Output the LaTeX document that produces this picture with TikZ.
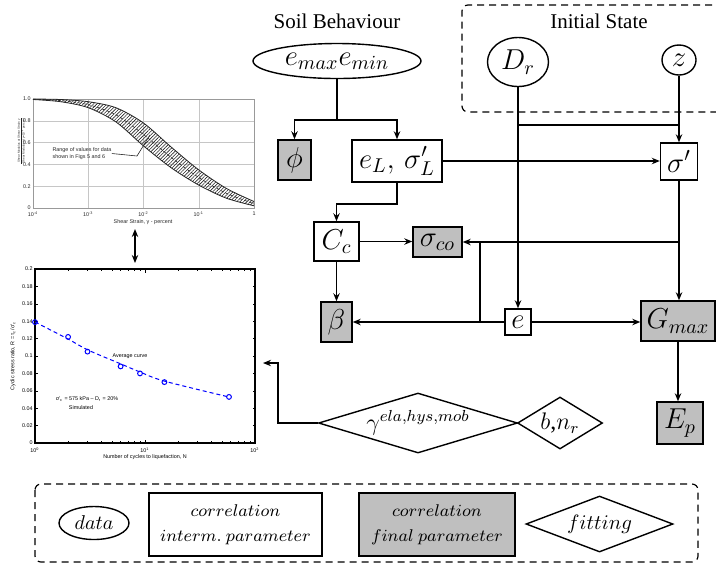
\RequirePackage{fix-cm}
\documentclass[tikz,border=0pt]{standalone}
\usepackage{fontspec}
\setmainfont{Liberation Serif}
\newfontfamily\plotfont{Liberation Sans}
\usetikzlibrary{shapes.geometric,arrows.meta,patterns.meta}

\begin{document}
\begin{tikzpicture}[x=0.5pt,y=-0.5pt,>={Stealth[length=4pt,width=3.2pt]}]
\tikzstyle{every node}+=[inner sep=0pt]
\tikzstyle{datum}=[draw,ellipse,line width=0.7pt,font=\Large]
\tikzstyle{interm}=[draw,rectangle,line width=0.7pt,font=\Large]
\tikzstyle{final}=[interm,fill=gray!50]
\tikzstyle{fitting}=[draw,diamond,line width=0.7pt,font=\large]
\tikzstyle{link}=[line width=0.7pt]
\tikzstyle{framebox}=[line width=0.6pt,dash pattern=on 3.5pt off 2.5pt,rounded corners=3pt]
\tikzstyle{plottext}=[font=\plotfont\fontsize{2.7}{3.2}\selectfont]
\tikzstyle{scan}=[gray!75,line width=0.3pt]
\useasboundingbox (0,0) rectangle (716,564);

\node[font=\fontsize{10.5}{12}\selectfont] (soiltitle) at (337,21) {Soil Behaviour};
\node[font=\fontsize{10.5}{12}\selectfont] (inittitle) at (599,21) {Initial State};
\draw[framebox] (724,5) -- (462,5) -- (462,112) -- (724,112);

\node[datum,minimum width=84pt,minimum height=17.5pt] (emm) at (337,61) {$e_{max}e_{min}$};
\node[datum,minimum width=30.5pt,minimum height=24.5pt] (Dr) at (518,62) {$D_r$};
\node[datum,minimum width=17pt,minimum height=15pt] (z) at (679,60) {$z$};

\node[final,minimum width=16.5pt,minimum height=20pt] (phi) at (294.5,160) {$\phi$};
\node[interm,minimum width=45pt,minimum height=21pt] (eL) at (397,161) {$e_L,\,\sigma'_L$};
\node[interm,minimum width=18.5pt,minimum height=18.5pt] (sig) at (679,161.5) {$\sigma'$};
\node[interm,minimum width=22.5pt,minimum height=19.5pt] (Cc) at (336.5,241.5) {$C_c$};
\node[final,minimum width=24.5pt,minimum height=15pt] (sco) at (437.5,242) {$\sigma_{co}$};
\node[final,minimum width=15.5pt,minimum height=20pt] (beta) at (336.5,322) {$\beta$};
\node[interm,minimum width=13pt,minimum height=13pt] (e) at (518,322) {$e$};
\node[final,minimum width=37pt,minimum height=20pt] (Gmax) at (678,321) {$G_{max}$};
\node[final,minimum width=23pt,minimum height=21pt] (Ep) at (680,423) {$E_p$};
\node[fitting,aspect=3.3,minimum width=99.5pt,minimum height=30pt] (gam) at (418,423) {$\gamma^{ela,hys,mob}$};
\node[fitting,aspect=1.6,minimum width=42.5pt,minimum height=26pt] (bnr) at (560,423) {$b$,$n_r$};

\coordinate (splitA) at (337,120);
\draw[link] (emm.south) -- (emm.south |- splitA);
\draw[link,->] (splitA) -| (phi.north);
\draw[link,->] (splitA) -| (eL.north);
\draw[link,->] (eL.east) -- (eL.east -| sig.west);
\coordinate (splitB) at (518,125);
\draw[link,->] (Dr.south) -- (Dr.south |- e.north);
\draw[link] (splitB) -- (splitB -| z.south);
\draw[link,->] (z.south) -- (z.south |- sig.north);
\coordinate (splitC) at (0,204);
\draw[link,->] (eL.south) -- (eL.south |- splitC) -| (Cc.north);
\draw[link,->] (Cc.east) -- (Cc.east -| sco.west);
\draw[link,->] (Cc.south) -- (Cc.south |- beta.north);
\draw[link,->] (sig.south) -- (sig.south |- Gmax.north);
\draw[link,->] (sig.south |- sco.east) -- (sco.east);
\coordinate (splitD) at (480,322);
\draw[link,->] (e.west) -- (e.west -| beta.east);
\draw[link] (splitD) -- (splitD |- sco.east);
\draw[link,->] (e.east) -- (e.east -| Gmax.west);
\draw[link,->] (Gmax.south) -- (Gmax.south |- Ep.north);
\coordinate (bendE) at (278,363);
\coordinate (csrin) at (263,363);
\draw[link,->] (gam.west) -| (bendE) -- (csrin);

\foreach \gx in {88.3,143.5,198.8} \draw[scan,gray!45] (\gx,99) -- (\gx,208);
\foreach \gy in {120.8,142.6,164.4,186.2} \draw[scan,gray!45] (33,\gy) -- (254,\gy);
\draw[scan,gray!80,line width=0.45pt] (33,99) rectangle (254,208);
\fill[pattern={Lines[angle=45,distance=1.2pt,line width=0.3pt]},pattern color=gray!30!black]
  plot[smooth] coordinates {(33,99) (60.6,99.5) (88.3,101.7) (115.9,107.7) (143.5,123) (171.1,147) (198.8,169.9) (226.4,188.4) (254,201.5)}
  -- plot[smooth] coordinates {(254,205.8) (226.4,198.2) (198.8,185.1) (171.1,167.7) (143.5,145.9) (115.9,121.9) (88.3,107.7) (60.6,101.7) (33,99.5)} -- cycle;
\draw[scan,gray!30!black,line width=0.4pt] plot[smooth] coordinates {(33,99) (60.6,99.5) (88.3,101.7) (115.9,107.7) (143.5,123) (171.1,147) (198.8,169.9) (226.4,188.4) (254,201.5)};
\draw[scan,gray!30!black,line width=0.4pt] plot[smooth] coordinates {(33,99.5) (60.6,101.7) (88.3,107.7) (115.9,121.9) (143.5,145.9) (171.1,167.7) (198.8,185.1) (226.4,198.2) (254,205.8)};
\draw[scan,gray!30!black,dash pattern=on 1.5pt off 1pt] plot[smooth] coordinates {(33,99.2) (60.6,100.6) (88.3,104.7) (115.9,114.8) (143.5,134.5) (171.1,157.4) (198.8,177.5) (226.4,193.3) (254,203.6)};
\foreach \v/\k in {1.0/5,0.8/4,0.6/3,0.4/2,0.2/1,0/0}
  \node[plottext,text=gray!30!black,anchor=east] (ggy\k) at (31,{208-21.8*\k}) {\v};
\foreach \lab/\k in {10\textsuperscript{-4}/0,10\textsuperscript{-3}/1,10\textsuperscript{-2}/2,10\textsuperscript{-1}/3,1/4}
  \node[plottext,text=gray!30!black] (ggx\k) at ({33+55.25*\k},214) {\lab};
\node[plottext,text=gray!30!black] (ggxlabel) at (143,222) {Shear Strain, γ - percent};
\node[plottext,font=\plotfont\fontsize{1.5}{1.8}\selectfont,text=gray!30!black,rotate=90] (ggylabeltop) at (19,141) {Shear Modulus at Shear Strain γ};
\node[plottext,font=\plotfont\fontsize{1.5}{1.8}\selectfont,text=gray!30!black,rotate=90] (ggylabelbot) at (23.5,141) {Shear Modulus at γ=10\textsuperscript{-4} percent};
\draw[scan,gray!30!black,line width=0.2pt] (21.2,118) -- (21.2,164);
\node[plottext,text=gray!30!black,align=left] (rangenote) at (82,153.5) {Range of values for data\\shown in Figs 5 and 6};
\coordinate (rangetip) at (150,135);
\draw[scan,gray!30!black] (rangenote.east) -- (137,156) -- (rangetip);

\coordinate (ggout) at (135,229);
\coordinate (csrtop) at (135,263);
\draw[link,<->] (ggout) -- (csrtop);

\draw[line width=0.6pt] (35,269) rectangle (255,443);
\foreach \k in {1,...,9} {
  \draw[line width=0.3pt] (35,{443-17.4*\k}) -- ++(2.5,0);
  \draw[line width=0.3pt] (255,{443-17.4*\k}) -- ++(-2.5,0);
}
\foreach \d in {0,1} \foreach \m in {2,...,9} {
  \draw[line width=0.3pt] ({35+110*(\d+log10(\m))},443) -- ++(0,-2);
  \draw[line width=0.3pt] ({35+110*(\d+log10(\m))},269) -- ++(0,2);
}
\draw[line width=0.3pt] (145,443) -- ++(0,-3.5) (145,269) -- ++(0,3.5);
\foreach \k/\lab in {0/0,1/0.02,2/0.04,3/0.06,4/0.08,5/0.1,6/0.12,7/0.14,8/0.16,9/0.18,10/0.2}
  \node[plottext,anchor=east] (csry\k) at (33,{443-17.4*\k}) {\lab};
\foreach \k/\gx in {0/35,1/145,2/255}
  \node[plottext] (csrx\k) at (\gx,450) {10\textsuperscript{\k}};
\node[plottext] (csrxlabel) at (145,457) {Number of cycles to liquefaction, N};
\node[plottext,rotate=90] (csrylabel) at (13,356) {Cyclic stress ratio, R = τ\textsubscript{c}/σ'\textsubscript{c}};
\draw[blue,line width=0.5pt,dash pattern=on 2pt off 1.5pt] plot[smooth] coordinates {(35,322) (68,339) (88,350) (121,364) (140,372) (164,381) (229,397)};
\foreach \px/\py in {35/322.1,68.1/336.9,87.5/351.6,120.6/366.4,140/373.4,164.4/382.1,229/396.9}
  \draw[blue,line width=0.5pt] (\px,\py) circle[radius=1.2pt];
\node[plottext] (avgcurve) at (130,356) {Average curve};
\node[plottext] (stressnote) at (87,399) {σ'\textsubscript{c} = 575 kPa – D\textsubscript{r} = 20\%};
\node[plottext] (simnote) at (81,408) {Simulated};

\draw[framebox] (35,484) rectangle (698,562);
\node[datum,font=\fontsize{10}{12}\selectfont,minimum width=35pt,minimum height=16.5pt] (ldata) at (94,523) {$data$};
\node[interm,align=center,font=\fontsize{8.5}{12.5}\selectfont,minimum width=86.5pt,minimum height=31.5pt] (lcorr) at (235.5,524.5) {$correlation$\\$interm.\ parameter$};
\node[final,align=center,font=\fontsize{8.5}{12.5}\selectfont,minimum width=78pt,minimum height=31.5pt] (lfinal) at (437,524.5) {$correlation$\\$final\ parameter$};
\node[fitting,aspect=2.6,font=\fontsize{10.4}{12}\selectfont,minimum width=73.5pt,minimum height=28pt] (lfit) at (599.5,524) {$fitting$};
\end{tikzpicture}
\end{document}
